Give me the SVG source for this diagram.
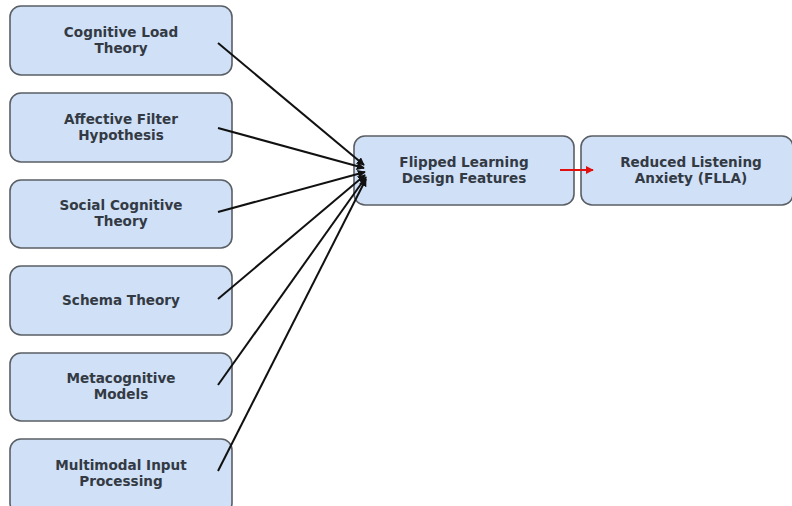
<svg xmlns="http://www.w3.org/2000/svg" width="792" height="506" viewBox="0 0 792 506">
<style>
.box{fill:#d0e0f6;stroke:#5a5f66;stroke-width:1.6}
.t{font-family:"DejaVu Sans",sans-serif;font-weight:bold;font-size:13.6px;fill:#333a44;text-anchor:middle}
.c{stroke:#111;stroke-width:2;fill:none}
</style>
<defs>
<marker id="ab" viewBox="0 0 10 10" refX="9" refY="5" markerWidth="4" markerHeight="4" orient="auto"><path d="M0,0L10,5L0,10z" fill="#111"/></marker>
<marker id="ar" viewBox="0 0 10 10" refX="9" refY="5" markerWidth="4" markerHeight="4" orient="auto"><path d="M0,0L10,5L0,10z" fill="#e01010"/></marker>
</defs>
<rect width="792" height="506" fill="#fff"/>
<g id="n1"><rect class="box" x="10" y="6" width="222" height="69" rx="11"/><text class="t" x="121" y="37">Cognitive Load</text><text class="t" x="121" y="53">Theory</text></g>
<g id="n2"><rect class="box" x="10" y="93" width="222" height="69" rx="11"/><text class="t" x="121" y="124">Affective Filter</text><text class="t" x="121" y="140">Hypothesis</text></g>
<g id="n3"><rect class="box" x="10" y="180" width="222" height="68" rx="11"/><text class="t" x="121" y="210">Social Cognitive</text><text class="t" x="121" y="226">Theory</text></g>
<g id="n4"><rect class="box" x="10" y="266" width="222" height="69" rx="11"/><text class="t" x="121" y="305">Schema Theory</text></g>
<g id="n5"><rect class="box" x="10" y="353" width="222" height="68" rx="11"/><text class="t" x="121" y="383">Metacognitive</text><text class="t" x="121" y="399">Models</text></g>
<g id="n6"><rect class="box" x="10" y="439" width="222" height="75" rx="11"/><text class="t" x="121" y="470">Multimodal Input</text><text class="t" x="121" y="486">Processing</text></g>
<g id="n7"><rect class="box" x="354" y="136" width="220" height="69" rx="11"/><text class="t" x="464" y="167">Flipped Learning</text><text class="t" x="464" y="183">Design Features</text></g>
<g id="n8"><rect class="box" x="581" y="136" width="212" height="69" rx="11"/><text class="t" x="691" y="167">Reduced Listening</text><text class="t" x="691" y="183">Anxiety (FLLA)</text></g>
<g id="edges">
<line class="c" x1="218" y1="43" x2="364" y2="165" marker-end="url(#ab)"/>
<line class="c" x1="218" y1="128" x2="364" y2="168" marker-end="url(#ab)"/>
<line class="c" x1="218" y1="212" x2="365" y2="172" marker-end="url(#ab)"/>
<line class="c" x1="218" y1="299" x2="365" y2="175" marker-end="url(#ab)"/>
<line class="c" x1="218" y1="385" x2="366" y2="177" marker-end="url(#ab)"/>
<line class="c" x1="218" y1="471" x2="366" y2="179" marker-end="url(#ab)"/>
<line x1="560" y1="170" x2="593" y2="170" stroke="#e01010" stroke-width="2" marker-end="url(#ar)"/>
</g>
</svg>
